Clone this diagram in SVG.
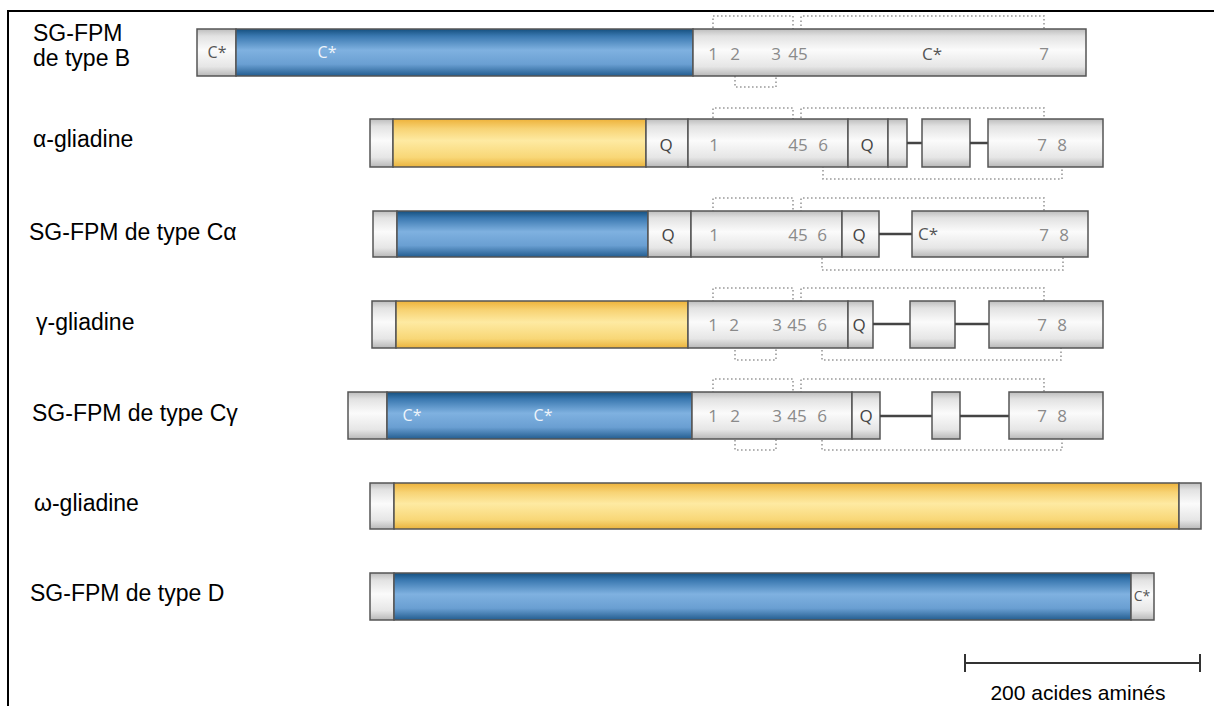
<svg xmlns="http://www.w3.org/2000/svg" width="1214" height="706" viewBox="0 0 1214 706">
<defs>
<linearGradient id="gGrey" x1="0" y1="0" x2="0" y2="1">
<stop offset="0" stop-color="#bdbdbd"/><stop offset="0.15" stop-color="#e2e2e2"/><stop offset="0.45" stop-color="#fbfbfb"/><stop offset="0.8" stop-color="#e6e6e6"/><stop offset="1" stop-color="#b8b8b8"/>
</linearGradient>
<linearGradient id="gBlue" x1="0" y1="0" x2="0" y2="1">
<stop offset="0" stop-color="#15507f"/><stop offset="0.15" stop-color="#3a78b0"/><stop offset="0.45" stop-color="#7fb1e0"/><stop offset="0.75" stop-color="#6a9fd2"/><stop offset="1" stop-color="#235d90"/>
</linearGradient>
<linearGradient id="gYel" x1="0" y1="0" x2="0" y2="1">
<stop offset="0" stop-color="#eeb23a"/><stop offset="0.2" stop-color="#f7d374"/><stop offset="0.45" stop-color="#feeaa2"/><stop offset="0.8" stop-color="#f8d777"/><stop offset="1" stop-color="#eab33e"/>
</linearGradient>
</defs>
<style>
.g{fill:url(#gGrey);stroke:#555;stroke-width:1.5}
.b{fill:url(#gBlue);stroke:#555;stroke-width:1.5}
.y{fill:url(#gYel);stroke:#555;stroke-width:1.5}
.lk{stroke:#444;stroke-width:2.5;fill:none}
.lbl{font-family:"Liberation Sans",Arial,sans-serif;font-size:23px;fill:#000}
.n{font-family:"Open Sans","Liberation Sans",sans-serif;font-size:17px;fill:#8a8a8a;text-anchor:middle}
.q{font-family:"Open Sans","Liberation Sans",sans-serif;font-size:17px;fill:#444;text-anchor:middle}
.cw{font-family:"Open Sans","Liberation Sans",sans-serif;font-size:16px;fill:#eef4fb;text-anchor:middle}
.cg{font-family:"Open Sans","Liberation Sans",sans-serif;font-size:16px;fill:#555;text-anchor:middle}
.dot{fill:none;stroke:#9a9a9a;stroke-width:1.6;stroke-dasharray:1.6 2.4}
.frame{stroke:#000;stroke-width:2;fill:none}
</style>
<rect width="1214" height="706" fill="#fff"/>
<path class="frame" d="M8,706 V11 H1214"/>

<g id="connectors">
<path class="dot" d="M713,40 V16 H793 V40 M801,38 V16 H1044 V40 M735,64 V87 H776 V66"/>
<path class="dot" d="M713,130 V108 H793 V130 M801,130 V108 H1044 V130 M823,158 V179 H1062 V158"/>
<path class="dot" d="M713,220 V198 H793 V220 M801,220 V198 H1044 V220 M822,250 V270 H1063 V250"/>
<path class="dot" d="M713,310 V288 H793 V310 M801,310 V288 H1044 V310 M735,342 V360 H776 V342 M822,342 V360 H1061 V342"/>
<path class="dot" d="M713,401 V379 H793 V401 M801,401 V379 H1044 V401 M735,432 V450 H776 V432 M822,432 V450 H1062 V432"/>
</g>

<g id="sgfpm-b">
<text class="lbl" x="33" y="41">SG-FPM</text>
<text class="lbl" x="33" y="66">de type B</text>
<rect class="g" x="197" y="29" width="39" height="47"/>
<rect class="b" x="236" y="29" width="457" height="47"/>
<rect class="g" x="693" y="29" width="393" height="47"/>
<text class="cg" x="217" y="58">C*</text>
<text class="cw" x="327" y="58">C*</text>
<text class="n" x="713" y="60">1</text>
<text class="n" x="735" y="60">2</text>
<text class="n" x="776" y="60">3</text>
<text class="n" x="798" y="60">45</text>
<text class="cg" x="932" y="60" style="font-size:17px">C*</text>
<text class="n" x="1044" y="60">7</text>
</g>

<g id="alpha-gliadine">
<text class="lbl" x="33" y="147">α-gliadine</text>
<rect class="g" x="370" y="119" width="23" height="48"/>
<rect class="y" x="393" y="119" width="253" height="48"/>
<rect class="g" x="646" y="119" width="42" height="48"/>
<rect class="g" x="688" y="119" width="160" height="48"/>
<rect class="g" x="848" y="119" width="40" height="48"/>
<rect class="g" x="888" y="119" width="19" height="48"/>
<line class="lk" x1="907" y1="143" x2="922" y2="143"/>
<rect class="g" x="922" y="119" width="48" height="48"/>
<line class="lk" x1="970" y1="143" x2="988" y2="143"/>
<rect class="g" x="988" y="119" width="115" height="48"/>
<text class="q" x="666" y="151">Q</text>
<text class="n" x="714" y="151">1</text>
<text class="n" x="798" y="151">45</text>
<text class="n" x="823" y="151">6</text>
<text class="q" x="867" y="151">Q</text>
<text class="n" x="1042" y="151">7</text>
<text class="n" x="1062" y="151">8</text>
</g>

<g id="sgfpm-calpha">
<text class="lbl" x="29" y="240">SG-FPM de type Cα</text>
<rect class="g" x="373" y="211" width="24" height="46"/>
<rect class="b" x="397" y="211" width="251" height="46"/>
<rect class="g" x="648" y="211" width="43" height="46"/>
<rect class="g" x="691" y="211" width="151" height="46"/>
<rect class="g" x="842" y="211" width="37" height="46"/>
<line class="lk" x1="879" y1="234" x2="912" y2="234"/>
<rect class="g" x="912" y="211" width="176" height="46"/>
<text class="q" x="668" y="241">Q</text>
<text class="n" x="714" y="241">1</text>
<text class="n" x="798" y="241">45</text>
<text class="n" x="822" y="241">6</text>
<text class="q" x="859" y="241">Q</text>
<text class="cg" x="928" y="240" style="font-size:17px">C*</text>
<text class="n" x="1044" y="241">7</text>
<text class="n" x="1064" y="241">8</text>
</g>

<g id="gamma-gliadine">
<text class="lbl" x="36" y="330">γ-gliadine</text>
<rect class="g" x="372" y="301" width="24" height="47"/>
<rect class="y" x="396" y="301" width="292" height="47"/>
<rect class="g" x="688" y="301" width="160" height="47"/>
<rect class="g" x="848" y="301" width="25" height="47"/>
<line class="lk" x1="873" y1="324" x2="910" y2="324"/>
<rect class="g" x="910" y="301" width="45" height="47"/>
<line class="lk" x1="955" y1="324" x2="989" y2="324"/>
<rect class="g" x="989" y="301" width="114" height="47"/>
<text class="n" x="713" y="331">1</text>
<text class="n" x="734" y="331">2</text>
<text class="n" x="777" y="331">3</text>
<text class="n" x="797" y="331">45</text>
<text class="n" x="822" y="331">6</text>
<text class="q" x="859" y="331">Q</text>
<text class="n" x="1042" y="331">7</text>
<text class="n" x="1062" y="331">8</text>
</g>

<g id="sgfpm-cgamma">
<text class="lbl" x="32" y="421">SG-FPM de type Cγ</text>
<rect class="g" x="348" y="392" width="39" height="47"/>
<rect class="b" x="387" y="392" width="305" height="47"/>
<rect class="g" x="692" y="392" width="160" height="47"/>
<rect class="g" x="852" y="392" width="28" height="47"/>
<line class="lk" x1="880" y1="416" x2="932" y2="416"/>
<rect class="g" x="932" y="392" width="28" height="47"/>
<line class="lk" x1="960" y1="416" x2="1009" y2="416"/>
<rect class="g" x="1009" y="392" width="94" height="47"/>
<text class="cw" x="412" y="421">C*</text>
<text class="cw" x="543" y="421">C*</text>
<text class="n" x="713" y="422">1</text>
<text class="n" x="735" y="422">2</text>
<text class="n" x="777" y="422">3</text>
<text class="n" x="797" y="422">45</text>
<text class="n" x="822" y="422">6</text>
<text class="q" x="866" y="422">Q</text>
<text class="n" x="1042" y="422">7</text>
<text class="n" x="1062" y="422">8</text>
</g>

<g id="omega-gliadine">
<text class="lbl" x="34" y="511">ω-gliadine</text>
<rect class="g" x="370" y="483" width="24" height="46"/>
<rect class="y" x="394" y="483" width="785" height="46"/>
<rect class="g" x="1179" y="483" width="22" height="46"/>
</g>

<g id="sgfpm-d">
<text class="lbl" x="30" y="601">SG-FPM de type D</text>
<rect class="g" x="370" y="573" width="24" height="47"/>
<rect class="b" x="394" y="573" width="737" height="47"/>
<rect class="g" x="1131" y="573" width="23" height="47"/>
<text class="cg" x="1142" y="601" style="font-size:14px">C*</text>
</g>

<g id="scale-bar">
<path d="M965,663 H1200 M965,654 V672 M1200,654 V672" stroke="#333" stroke-width="2" fill="none"/>
<text x="1078" y="700" text-anchor="middle" style="font-family:'Liberation Sans',Arial,sans-serif;font-size:21px;fill:#000">200 acides aminés</text>
</g>
</svg>
